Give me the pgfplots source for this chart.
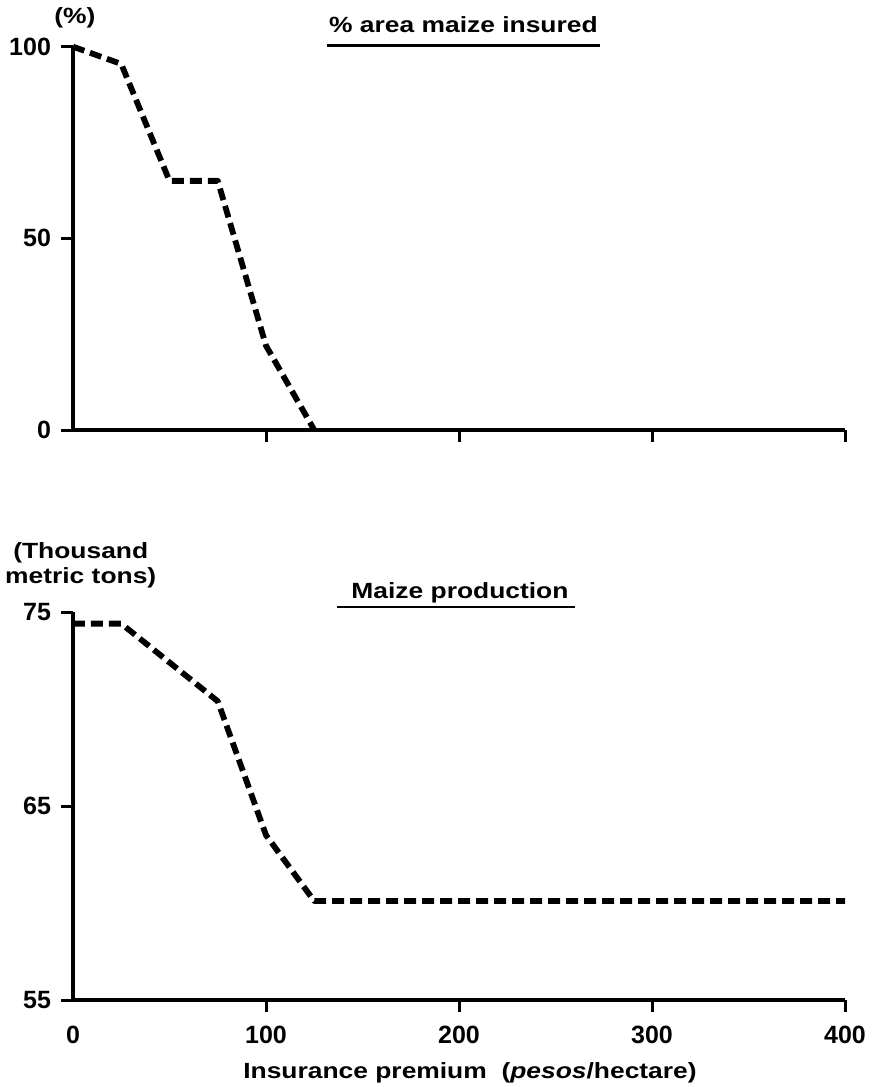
\documentclass[border=0pt]{standalone}
\usepackage{fontspec}
\setmainfont{Liberation Sans}[FakeStretch=1.2]
\newfontfamily\tickfont{Liberation Sans}
\usepackage{pgfplots}
\pgfplotsset{compat=1.18}
\begin{document}
\begin{tikzpicture}[font=\fontsize{11}{12.5}\selectfont\bfseries]
\useasboundingbox (-36.5pt,-328.5pt) rectangle (399.5pt,215pt);
\pgfplotsset{
  every axis/.append style={
    scale only axis, width=386pt, xmin=0, xmax=400,
    enlargelimits=false, clip=false,
    axis x line*=bottom, axis y line*=left,
    axis line style={line width=1.8pt, -},
    tick style={line width=1.5pt, black},
    tick align=outside, major tick length=6pt,
    /pgf/number format/assume math mode=true,
    tick label style={font=\tickfont\fontsize{12.5}{14}\selectfont\bfseries},
    yticklabel style={xshift=-1.5pt},
    xticklabel style={yshift=-3.5pt},
  },
  dashline/.style={black, line width=2.9pt, dash pattern=on 6pt off 3pt, line join=round}
}
% ---- top panel
\begin{axis}[at={(0pt,0pt)}, anchor=south west, height=191.65pt,
  ymin=0, ymax=100, ytick={0,50,100},
  xtick={100,200,300,400}, xticklabels={}]
\addplot[dashline] coordinates {(0,100) (25,95.5) (50,65) (75,65) (100,22) (125,0)};
\node[anchor=center] at (axis cs:1,107.5) {(\%)};
\node[anchor=base] at (axis cs:202.3,103.8) {\% area maize insured};
\draw[line width=1.4pt] (axis cs:131.6,100.4) -- (axis cs:273,100.4);
\end{axis}
% ---- bottom panel
\begin{axis}[at={(0pt,-91pt)}, anchor=north west, height=194pt,
  ymin=55, ymax=75, ytick={55,65,75},
  xtick={100,200,300,400},
  extra x ticks={0}, extra x tick style={major tick style={draw=none}}]
\addplot[dashline] coordinates {(0,74.4) (25,74.4) (75,70.4) (100,63.5) (125,60.1) (400,60.1)};
\node[align=center, anchor=center] at (axis cs:4,77.43) {(Thousand\\metric tons)};
\node[anchor=base] at (axis cs:200.5,75.72) {Maize production};
\draw[line width=1.4pt] (axis cs:136.8,75.26) -- (axis cs:260.1,75.26);
\node[anchor=base] at (axis cs:205.7,50.97) {Insurance premium \ (\textit{pesos}/hectare)};
\end{axis}
\end{tikzpicture}
\end{document}
